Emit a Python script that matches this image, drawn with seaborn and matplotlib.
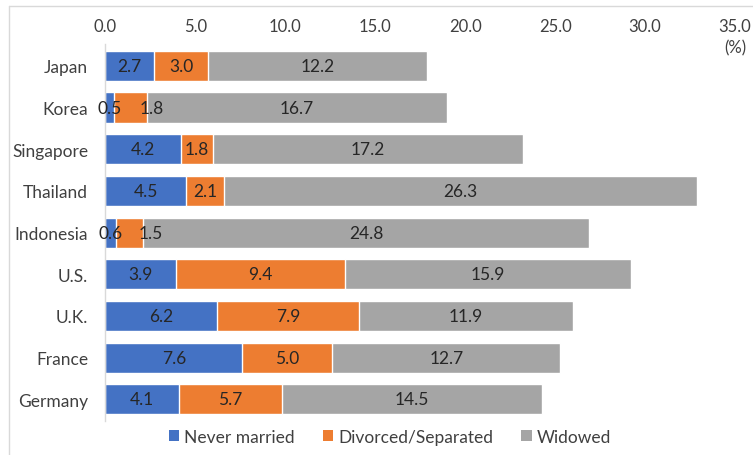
import matplotlib
matplotlib.use("Agg")
import matplotlib.pyplot as plt
from matplotlib.patches import Patch
from matplotlib.lines import Line2D
import numpy as np
import pandas as pd
import seaborn as sns

countries = ["Japan", "Korea", "Singapore", "Thailand", "Indonesia",
             "U.S.", "U.K.", "France", "Germany"]
never_married = [2.7, 0.5, 4.2, 4.5, 0.6, 3.9, 6.2, 7.6, 4.1]
divorced = [3.0, 1.8, 1.8, 2.1, 1.5, 9.4, 7.9, 5.0, 5.7]
widowed = [12.2, 16.7, 17.2, 26.3, 24.8, 15.9, 11.9, 12.7, 14.5]
series_names = ["Never married", "Divorced/Separated", "Widowed"]
x_ticks = [0, 5, 10, 15, 20, 25, 30, 35]

colors = ["#4472C4", "#ED7D31", "#A5A5A5"]
text_color = "#404040"
label_color = "#262626"

sns.set_theme(style="white")
plt.rcParams["font.family"] = ["Lato", "DejaVu Sans"]

df = pd.DataFrame({
    "country": countries,
    "Never married": never_married,
    "Divorced/Separated": divorced,
    "Widowed": widowed,
})
cum = df[series_names].cumsum(axis=1)

fig = plt.figure(figsize=(7.53, 4.56), dpi=100)
ax = fig.add_axes([0.140, 0.0746, 0.836, 0.8264])

# stacked bars: draw cumulative totals from the longest to the shortest
for name, color in zip(reversed(series_names), reversed(colors)):
    sns.barplot(x=cum[name], y=df["country"], orient="h", color=color,
                width=0.72, errorbar=None, saturation=1, ax=ax)

# value labels in the middle of each segment
starts = cum.shift(1, axis=1).fillna(0)
for i in range(len(df)):
    for j, name in enumerate(series_names):
        val = df.loc[i, name]
        xc = starts.loc[i, name] + val / 2
        dx = 0
        # nudge a label right when the segment before it is too thin
        if j == 1 and df.loc[i, series_names[0]] < 1.0:
            dx = 15
        ax.annotate(f"{val:.1f}", xy=(xc, i), xytext=(dx, 0),
                    textcoords="offset points", ha="center", va="center",
                    fontsize=12.5, color=label_color)

ax.set_xlim(0, 35)
ax.set_ylim(8.52, -0.52)
ax.xaxis.tick_top()
ax.set_xticks(x_ticks)
ax.set_xticklabels([f"{t:.1f}" for t in x_ticks])
ax.tick_params(axis="x", length=0, pad=7.5, labelsize=12, labelcolor=text_color)
ax.tick_params(axis="y", length=0, pad=12.5, labelsize=12.5, labelcolor=text_color)
ax.set_xlabel("")
ax.set_ylabel("")

for side in ["top", "right", "bottom"]:
    ax.spines[side].set_visible(False)
ax.spines["left"].set_color("#D9D9D9")
ax.spines["left"].set_linewidth(1.0)

ax.annotate("(%)", xy=(35, 1.0), xycoords=("data", "axes fraction"),
            xytext=(0, -2), textcoords="offset points", ha="center",
            va="center", fontsize=12, color=text_color)

handles = [Patch(facecolor=c, edgecolor="none") for c in colors]
fig.legend(handles, series_names, loc="center", bbox_to_anchor=(0.518, 0.04),
           ncol=3, frameon=False, fontsize=12.5, handlelength=0.6,
           handleheight=0.6, handletextpad=0.3, columnspacing=1.6,
           labelcolor=text_color)

# chart frame
fig.add_artist(Line2D([9 / 753, 1], [1 - 7 / 456, 1 - 7 / 456],
                      color="#D9D9D9", lw=1.0, transform=fig.transFigure))
fig.add_artist(Line2D([9 / 753, 9 / 753], [0, 1 - 7 / 456],
                      color="#D9D9D9", lw=1.0, transform=fig.transFigure))

fig.savefig("out.png", dpi=100)
